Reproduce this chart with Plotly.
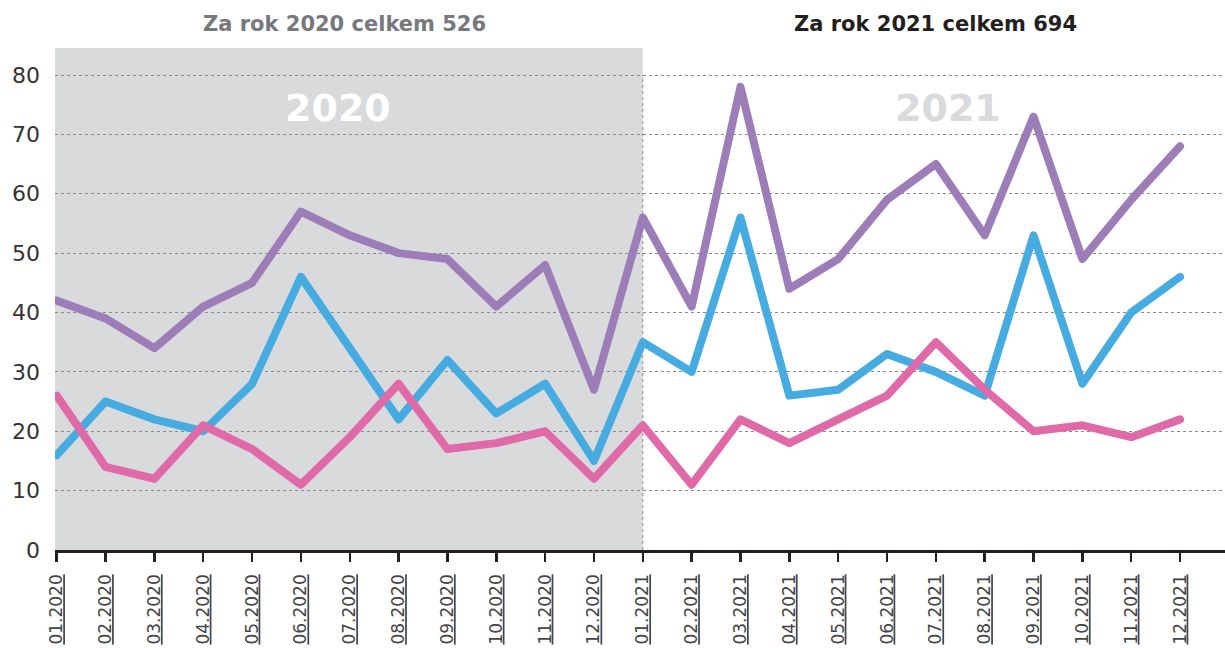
import plotly.graph_objects as go

months = ["01.2020","02.2020","03.2020","04.2020","05.2020","06.2020","07.2020","08.2020","09.2020","10.2020","11.2020","12.2020",
          "01.2021","02.2021","03.2021","04.2021","05.2021","06.2021","07.2021","08.2021","09.2021","10.2021","11.2021","12.2021"]
total = [42,39,34,41,45,57,53,50,49,41,48,27, 56,41,78,44,49,59,65,53,73,49,59,68]
blue  = [16,25,22,20,28,46,34,22,32,23,28,15, 35,30,56,26,27,33,30,26,53,28,40,46]
pink  = [26,14,12,21,17,11,19,28,17,18,20,12, 21,11,22,18,22,26,35,27,20,21,19,22]
yticks = [0,10,20,30,40,50,60,70,80]

x = list(range(len(months)))
fig = go.Figure()
for vals, col in [(total, "#9d7db8"), (blue, "#46abe1"), (pink, "#e06aa8")]:
    fig.add_trace(go.Scatter(x=x, y=vals, mode="lines",
                             line=dict(color=col, width=8), hoverinfo="skip", showlegend=False))

ticktext = ['<span style="text-decoration:underline">%s</span>' % m for m in months]
FONT = "DejaVu Sans, Liberation Sans, sans-serif"

fig.update_layout(
    width=1225, height=648,
    margin=dict(l=55, r=0, t=48, b=98, autoexpand=False),
    paper_bgcolor="white", plot_bgcolor="white",
    font=dict(family=FONT, color="#333"),
    xaxis=dict(range=[-0.035, 23.92], tickmode="array", tickvals=x, ticktext=ticktext,
               tickangle=-90, ticks="outside", ticklen=9, tickwidth=2.5, tickcolor="#231f20",
               showline=True, linecolor="#231f20", linewidth=2.5, showgrid=False, zeroline=False,
               automargin=False,
               tickfont=dict(size=17, color="#444"), ticklabelstandoff=6),
    yaxis=dict(range=[0, 84.55], tickmode="array", tickvals=yticks, automargin=False,
               showgrid=True, gridcolor="#8a8a8a", gridwidth=1, griddash="dot",
               zeroline=False, showline=False, ticks="",
               tickfont=dict(size=22, color="#333"), ticklabelstandoff=14),
    shapes=[
        dict(type="rect", xref="paper", yref="paper", x0=0, x1=(12 + 0.035) / 23.955, y0=0, y1=1,
             fillcolor="#d9dadc", line=dict(width=0), layer="below"),
        dict(type="line", xref="x", yref="y", x0=12, x1=12, y0=0, y1=80,
             line=dict(color="#8a8a8a", width=1, dash="dot"), layer="below"),
    ],
    annotations=[
        dict(text="<b>Za rok 2020 celkem 526</b>", xref="x", yref="paper", x=5.9, y=1.048,
             showarrow=False, font=dict(size=21, color="#77787b"), xanchor="center", yanchor="middle"),
        dict(text="<b>Za rok 2021 celkem 694</b>", xref="x", yref="paper", x=18.0, y=1.048,
             showarrow=False, font=dict(size=21, color="#231f20"), xanchor="center", yanchor="middle"),
        dict(text="<b>2020</b>", xref="x", yref="y", x=5.76, y=74.4,
             showarrow=False, font=dict(size=38, color="white"), xanchor="center", yanchor="middle"),
        dict(text="<b>2021</b>", xref="x", yref="y", x=18.25, y=74.4,
             showarrow=False, font=dict(size=38, color="#d9dadc"), xanchor="center", yanchor="middle"),
    ],
)

post = (
    "document.body.style.margin='0';document.body.style.overflow='hidden';"
    "document.querySelectorAll('.scatterlayer path.js-line').forEach(function(p){"
    "p.style.strokeLinejoin='round';p.style.strokeLinecap='round';});"
)
fig.write_html("out.html", config={"displayModeBar": False, "staticPlot": True}, post_script=post)
